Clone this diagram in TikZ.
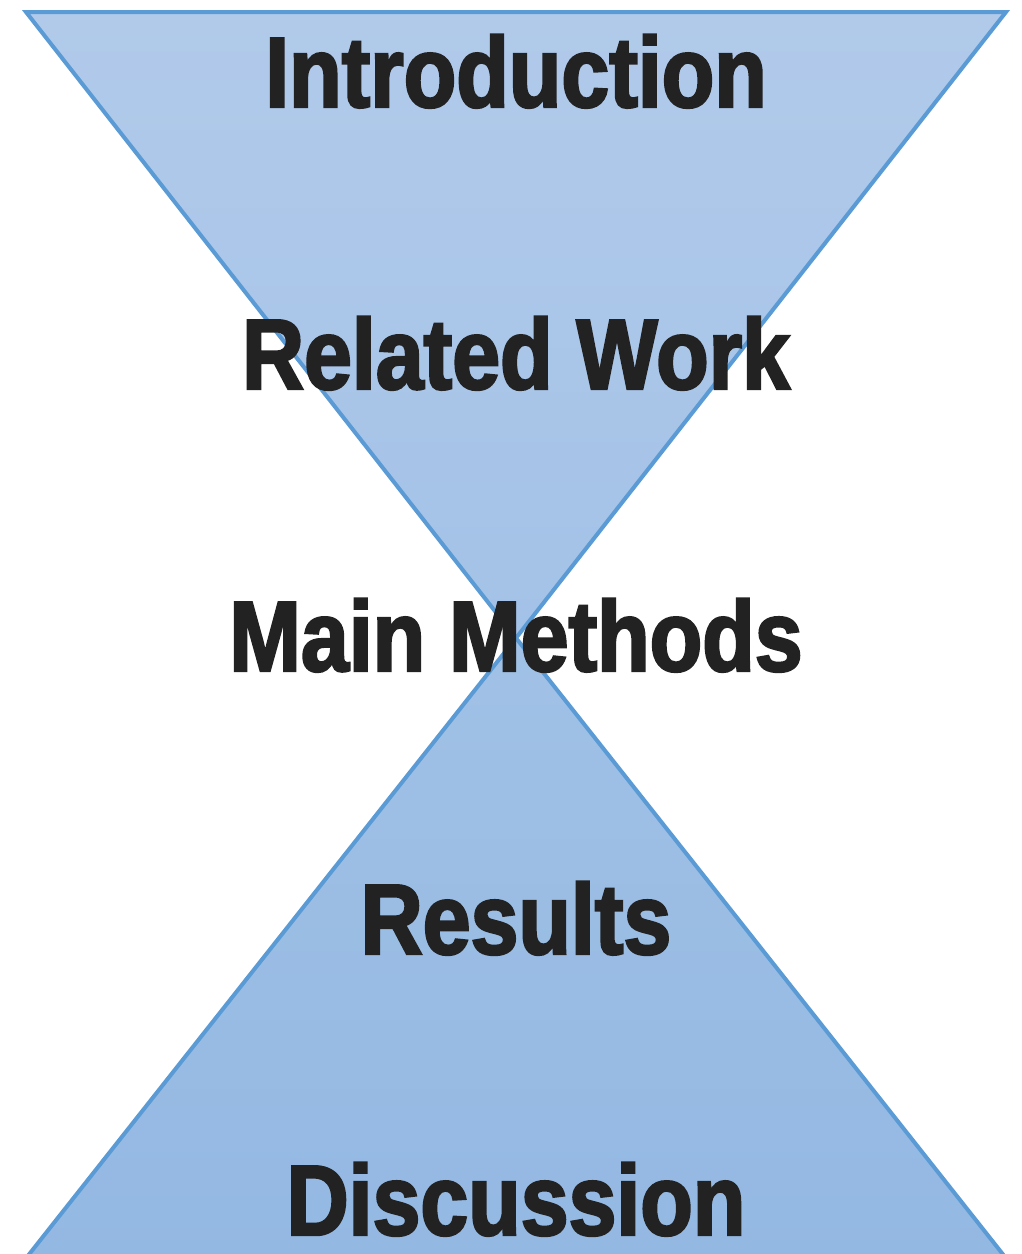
\documentclass[tikz,border=0pt]{standalone}
\usepackage{fontspec}
\newfontfamily\headfont[FakeStretch=0.86,FakeBold=2.4]{Liberation Sans Bold}
\definecolor{edgeblue}{RGB}{91,155,213}
\definecolor{fillA}{RGB}{177,202,234}
\definecolor{fillB}{RGB}{163,194,231}
\definecolor{fillC}{RGB}{161,193,230}
\definecolor{fillD}{RGB}{147,184,226}
\definecolor{ink}{RGB}{34,34,34}
\begin{document}
\begin{tikzpicture}[x=1pt,y=-1pt,
  funnel/.style={draw=edgeblue,line width=4pt,line join=miter},
  stage/.style={text=ink,font=\headfont\fontsize{100}{100}\selectfont,inner sep=0pt,anchor=base}]
\useasboundingbox (0,0) rectangle (1022,1254);
\clip (0,0) rectangle (1022,1254);
% upper funnel, narrowing towards the middle
\shadedraw[funnel,top color=fillA,bottom color=fillB]
  (26,12) -- (1006,12) -- (516,638) -- cycle;
% lower funnel, widening towards the bottom
\shadedraw[funnel,top color=fillC,bottom color=fillD]
  (516,638) -- (1009,1262) -- (23,1262) -- cycle;
% section labels
\node[stage] (intro)   at (516,107)  {Introduction};
\node[stage] (related) at (516,389)  {Related Work};
\node[stage] (methods) at (516,671)  {Main Methods};
\node[stage] (results) at (516,954)  {Results};
\node[stage] (discuss) at (516,1235) {Discussion};
\end{tikzpicture}
\end{document}
